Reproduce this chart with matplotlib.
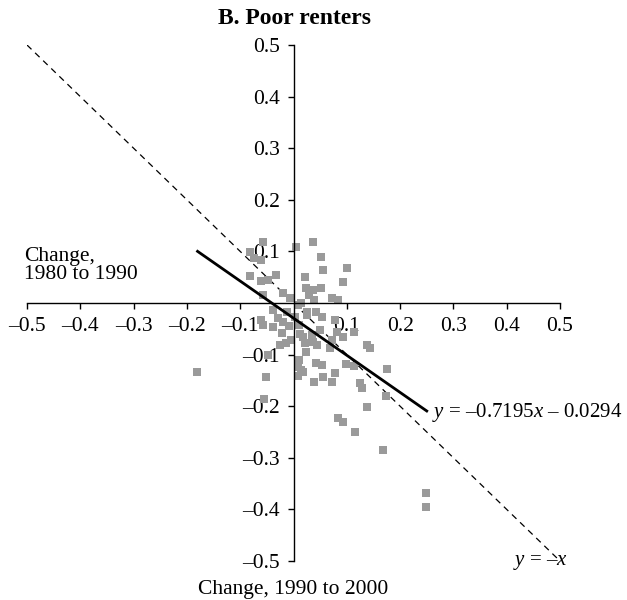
import numpy as np
import matplotlib
matplotlib.use("Agg")
import matplotlib.pyplot as plt
from matplotlib.ticker import FuncFormatter

plt.rcParams['font.family'] = ['Liberation Serif', 'DejaVu Serif']
plt.rcParams['mathtext.fontset'] = 'custom'
plt.rcParams['mathtext.rm'] = 'Liberation Serif'
plt.rcParams['mathtext.it'] = 'Liberation Serif:italic'

# change 1990-2000 (x) vs change 1980-1990 (y)
x = [-0.081, -0.075, -0.058, -0.061, -0.081, -0.061, -0.048, -0.032, -0.058, -0.020,
     -0.006, -0.039, -0.061, -0.058, -0.039, -0.020, -0.021, -0.026, -0.014, -0.048,
     -0.181, -0.051, -0.056, 0.005, 0.036, 0.051, 0.101, 0.056, 0.092, 0.021,
     0.024, 0.036, 0.052, 0.073, 0.084, 0.039, 0.015, 0.008, 0.030, 0.026,
     0.043, 0.054, 0.026, 0.077, 0.011, 0.017, 0.034, -0.004, 0.081, 0.114,
     0.092, 0.049, 0.036, 0.073, 0.021, 0.045, 0.068, 0.137, 0.143, 0.024,
     0.015, 0.011, 0.008, 0.017, 0.008, 0.043, 0.053, 0.099, 0.114, 0.077,
     0.056, 0.039, 0.073, 0.124, 0.129, 0.176, 0.173, 0.137, 0.083, 0.092,
     0.116, 0.167, 0.248, 0.248, -0.013, -0.030, 0.002, -0.008, 0.012]
y = [0.098, 0.088, 0.119, 0.083, 0.052, 0.043, 0.045, 0.054, 0.016, 0.019,
     0.009, -0.014, -0.033, -0.043, -0.046, -0.036, -0.059, -0.081, -0.078, -0.101,
     -0.134, -0.143, -0.186, 0.109, 0.118, 0.089, 0.068, 0.064, 0.041, 0.050,
     0.029, 0.025, 0.029, 0.010, 0.006, 0.006, 0.000, -0.004, 0.016, -0.017,
     -0.017, -0.027, -0.023, -0.033, -0.043, -0.066, -0.062, -0.072, -0.056, -0.056,
     -0.066, -0.052, -0.076, -0.072, -0.078, -0.081, -0.087, -0.081, -0.087, -0.095,
     -0.130, -0.110, -0.124, -0.134, -0.141, -0.116, -0.120, -0.118, -0.122, -0.136,
     -0.143, -0.153, -0.153, -0.155, -0.165, -0.128, -0.180, -0.202, -0.223, -0.231,
     -0.250, -0.285, -0.368, -0.395, -0.018, -0.030, -0.028, -0.045, -0.060]

slope = -0.7195
intercept = -0.0294
fit_range = [-0.18, 0.25]
ticks = [-0.5, -0.4, -0.3, -0.2, -0.1, 0.1, 0.2, 0.3, 0.4, 0.5]

fig = plt.figure(figsize=(6.27, 6.0), dpi=100)
ax = fig.add_axes([27 / 627, 39 / 600, 533 / 627, 516 / 600])

# y = -x reference
ax.plot([-0.5, 0.5], [0.5, -0.5], 'k--', lw=0.9, dashes=(5, 4), zorder=1)
ax.scatter(x, y, marker='s', s=30, color='#9a9a9a', linewidths=0, zorder=2)
fx = np.array(fit_range)
ax.plot(fx, slope * fx + intercept, 'k', lw=2.0, zorder=3)

ax.set_xlim(-0.5, 0.5)
ax.set_ylim(-0.5, 0.5)
for s in ['top', 'right']:
    ax.spines[s].set_visible(False)
ax.spines['left'].set_position(('data', 0))
ax.spines['bottom'].set_position(('data', 0))
ax.spines['left'].set_linewidth(1.0)
ax.spines['bottom'].set_linewidth(1.0)

fmt = FuncFormatter(lambda v, p: ('%.1f' % v).replace('-', '\u2013'))
ax.set_xticks(ticks)
ax.set_yticks(ticks)
ax.xaxis.set_major_formatter(fmt)
ax.yaxis.set_major_formatter(fmt)
ax.tick_params(direction='out', length=4, width=1, labelsize=15.5, pad=6)

ax.text(-0.505, 0.036, 'Change,\n1980 to 1990', ha='left', va='bottom',
        fontsize=15.5, linespacing=0.95)
ax.text(0, -0.556, 'Change, 1990 to 2000', ha='center', va='center',
        fontsize=15.5, clip_on=False)
ax.text(0.259, -0.213, '$y$ = \u20130.7195$x$ \u2013 0.0294', ha='left',
        va='center', fontsize=15)
ax.text(0.411, -0.502, '$y$ = \u2013$x$', ha='left', va='center', fontsize=15)

fig.text(294 / 627, 1 - 18 / 600, 'B. Poor renters', ha='center', va='center',
         fontsize=17, fontweight='bold')

fig.savefig('out.png', dpi=100)
